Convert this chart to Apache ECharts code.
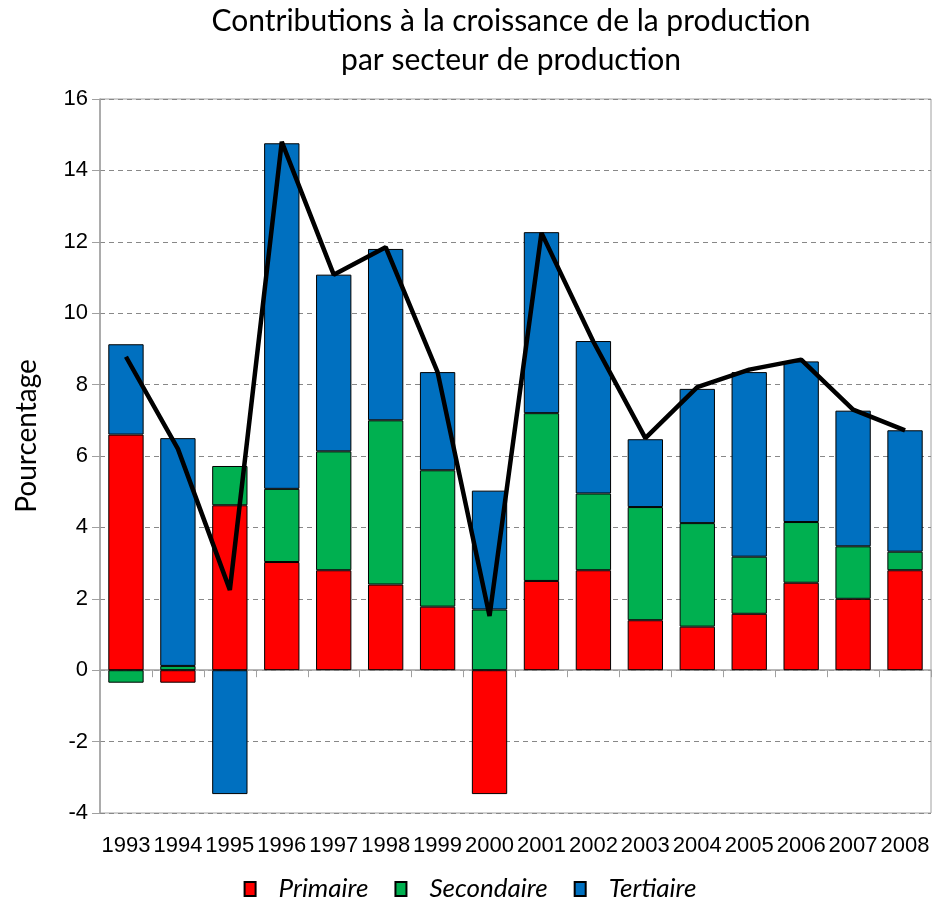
<!DOCTYPE html>
<html>
<head>
    <meta charset="utf-8"/>
    <title>Contributions à la croissance</title>
    <script src="https://cdn.jsdelivr.net/npm/echarts@6/dist/echarts.min.js"></script>
    <style>
        html, body { margin: 0; padding: 0; background: #fff; }
        #main { width: 940px; height: 902px; }
    </style>
</head>
<body>
<div id="main"></div>
<script>
    // 年份
    var annees = ['1993', '1994', '1995', '1996', '1997', '1998', '1999', '2000',
        '2001', '2002', '2003', '2004', '2005', '2006', '2007', '2008'];
    // 各部门贡献
    var primaire = [6.6, -0.35, 4.62, 3.03, 2.8, 2.4, 1.78, -3.47, 2.5, 2.8, 1.4, 1.22, 1.58, 2.45, 2.0, 2.8];
    var secondaire = [-0.35, 0.12, 1.1, 2.05, 3.33, 4.6, 3.82, 1.7, 4.7, 2.15, 3.17, 2.9, 1.6, 1.7, 1.47, 0.52];
    var tertiaire = [2.53, 6.38, -3.47, 9.68, 4.95, 4.8, 2.75, 3.33, 5.07, 4.27, 1.9, 3.76, 5.17, 4.5, 3.8, 3.4];
    // 总增长（折线）
    var total = [8.78, 6.2, 2.25, 14.8, 11.08, 11.85, 8.35, 1.52, 12.25, 9.2, 6.5, 7.93, 8.42, 8.7, 7.3, 6.72];
    var yTicks = { min: -4, max: 16, interval: 2 };

    var myChart = echarts.init(document.getElementById('main'));

    function barSerie(name, data, color) {
        return {
            name: name,
            type: 'bar',
            stack: 'secteurs',
            data: data,
            barWidth: '68%',
            itemStyle: { color: color, borderColor: '#000', borderWidth: 1 }
        };
    }

    var option = {
        animation: false,
        backgroundColor: '#fff',
        title: {
            text: 'Contributions à la croissance de la production\npar secteur de production',
            left: 506,
            textAlign: 'center',
            top: -3,
            textStyle: {
                fontFamily: 'Lato',
                fontWeight: 'normal',
                fontSize: 30,
                lineHeight: 39,
                color: '#000'
            }
        },
        // 纵轴标题（位置比轴中点略高）
        graphic: [{
            type: 'text',
            x: 27,
            y: 436,
            rotation: Math.PI / 2,
            style: {
                text: 'Pourcentage',
                fontFamily: 'Lato',
                fontSize: 28,
                fill: '#000',
                textAlign: 'center',
                textVerticalAlign: 'middle'
            }
        }],
        legend: {
            data: ['Primaire', 'Secondaire', 'Tertiaire'],
            bottom: -5,
            left: 'center',
            icon: 'rect',
            itemWidth: 11,
            itemHeight: 14,
            itemGap: 26,
            textStyle: {
                fontFamily: 'Lato',
                fontStyle: 'italic',
                fontSize: 26,
                color: '#000',
                padding: [0, 0, 0, 18]
            }
        },
        grid: {
            left: 100,
            right: 9,
            top: 99,
            bottom: 89,
            show: true,
            borderColor: '#a0a0a0',
            borderWidth: 1
        },
        xAxis: [
            {
                type: 'category',
                data: annees,
                axisLine: { onZero: true, lineStyle: { color: '#a0a0a0', width: 1.5 } },
                axisTick: { show: true, interval: 0, alignWithLabel: false, length: 7, inside: false, lineStyle: { color: '#a0a0a0' } },
                axisLabel: { show: false, interval: 0 }
            },
            {
                type: 'category',
                data: annees,
                position: 'bottom',
                axisLine: { show: false, onZero: false },
                axisTick: { show: false },
                axisLabel: {
                    interval: 0,
                    margin: 22,
                    fontFamily: 'Liberation Sans Narrow, Liberation Sans',
                    fontSize: 22,
                    color: '#000'
                }
            }
        ],
        yAxis: {
            type: 'value',
            min: yTicks.min,
            max: yTicks.max,
            interval: yTicks.interval,
            axisLine: { show: true, lineStyle: { color: '#a0a0a0', width: 1.5 } },
            axisTick: { show: true, length: 8, lineStyle: { color: '#a0a0a0' } },
            axisLabel: {
                margin: 12,
                fontFamily: 'Liberation Sans Narrow, Liberation Sans',
                fontSize: 22,
                color: '#000'
            },
            splitLine: { show: true, lineStyle: { color: '#888', type: [5, 4] } }
        },
        series: [
            barSerie('Primaire', primaire, '#ff0000'),
            barSerie('Secondaire', secondaire, '#00b050'),
            barSerie('Tertiaire', tertiaire, '#0070c0'),
            {
                name: 'Total',
                type: 'line',
                data: total,
                symbol: 'none',
                lineStyle: { color: '#000', width: 4.5 },
                z: 5
            }
        ]
    };

    myChart.setOption(option);
</script>
</body>
</html>
